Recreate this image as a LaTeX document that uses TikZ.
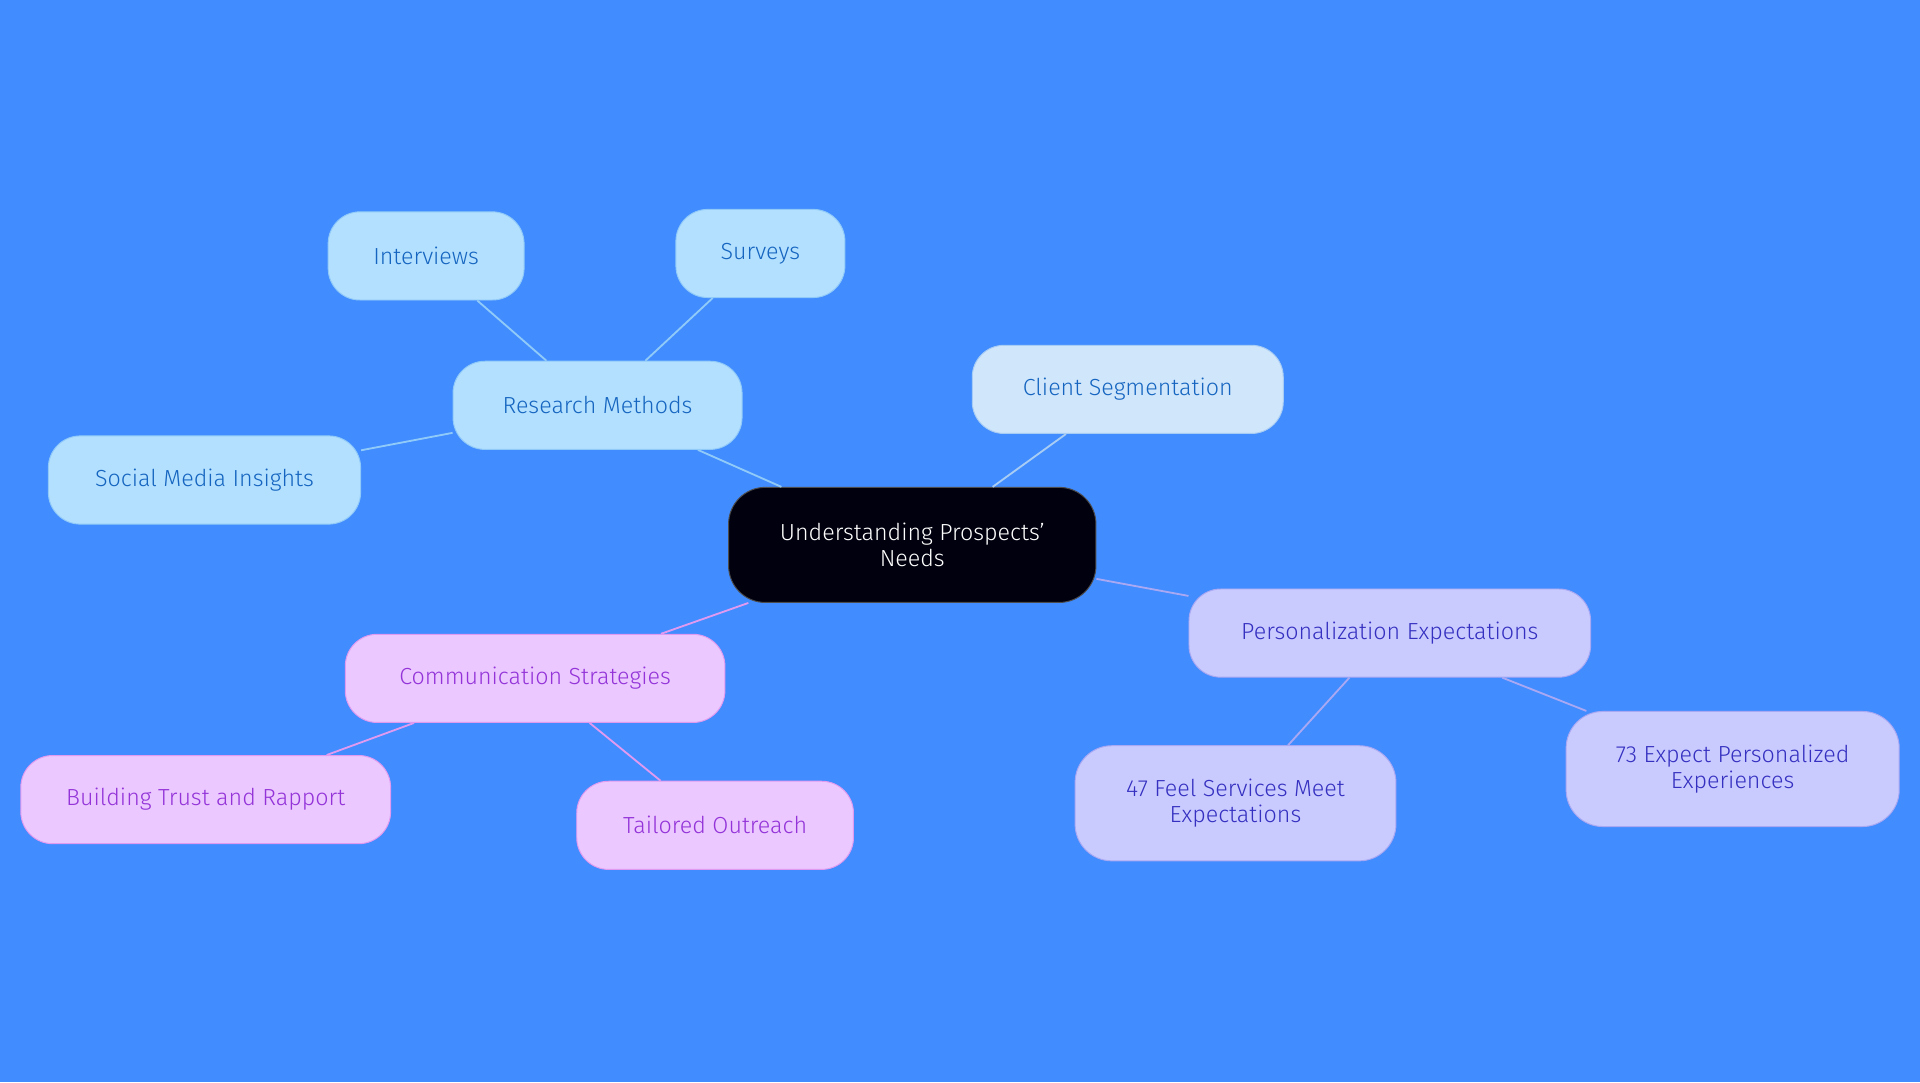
\documentclass[tikz,border=0pt]{standalone}
\usepackage{fontspec}
\setmainfont{Fira Sans Light}[BoldFont=Fira Sans]
\begin{document}
\begin{tikzpicture}[x=1pt,y=-1pt,
  base/.style={rounded corners=26pt,minimum height=72pt,align=center,font=\fontsize{19}{21}\selectfont,line width=0.8pt},
  blu/.style={base,fill=c1fill,draw=c1line,text=c1text},
  seg/.style={base,fill=c2fill,draw=c2line,text=c1text},
  pur/.style={base,fill=c3fill,draw=c3line,text=c3text},
  pnk/.style={base,fill=c4fill,draw=c4line,text=c4text},
  e1/.style={draw=c1line,line width=1.5pt},
  e3/.style={draw=c3line,line width=1.5pt},
  e4/.style={draw=c4line,line width=1.5pt}]
\definecolor{bg}{HTML}{418CFF}
\definecolor{c1fill}{HTML}{B3E0FF}\definecolor{c1line}{HTML}{90CAF9}\definecolor{c1text}{HTML}{1565C0}
\definecolor{c2fill}{HTML}{D0E6FB}\definecolor{c2line}{HTML}{A8CDF5}
\definecolor{c3fill}{HTML}{C9CBFF}\definecolor{c3line}{HTML}{A9A8F3}\definecolor{c3text}{HTML}{3530C0}
\definecolor{c4fill}{HTML}{EBC8FF}\definecolor{c4line}{HTML}{E09AF0}\definecolor{c4text}{HTML}{9333D8}
\fill[bg] (0,0) rectangle (1568,884);
\node[base,fill=black!90!blue!60!black,draw=black!70,text=white,minimum width=300pt,minimum height=94pt,rounded corners=30pt] (c) at (745,445) {Understanding Prospects'\\Needs};
\node[blu,minimum width=236pt] (rm) at (488,331) {Research Methods};
\node[blu,minimum width=160pt] (iv) at (348,209) {Interviews};
\node[blu,minimum width=138pt] (sv) at (621,207) {Surveys};
\node[blu,minimum width=255pt] (sm) at (167,392) {Social Media Insights};
\node[seg,minimum width=254pt] (cs) at (921,318) {Client Segmentation};
\node[pur,minimum width=328pt] (pe) at (1135,517) {Personalization Expectations};
\node[pur,minimum width=262pt,minimum height=94pt,rounded corners=30pt] (p47) at (1009,656) {47 Feel Services Meet\\Expectations};
\node[pur,minimum width=272pt,minimum height=94pt,rounded corners=30pt] (p73) at (1415,628) {73 Expect Personalized\\Experiences};
\node[pnk,minimum width=310pt] (co) at (437,554) {Communication Strategies};
\node[pnk,minimum width=302pt] (bt) at (168,653) {Building Trust and Rapport};
\node[pnk,minimum width=226pt] (to) at (584,674) {Tailored Outreach};
\draw[e1] (c) -- (rm); \draw[e1] (rm) -- (iv); \draw[e1] (rm) -- (sv); \draw[e1] (rm) -- (sm);
\draw[e1,draw=c2line] (c) -- (cs);
\draw[e3] (c) -- (pe); \draw[e3] (pe) -- (p47); \draw[e3] (pe) -- (p73);
\draw[e4] (c) -- (co); \draw[e4] (co) -- (bt); \draw[e4] (co) -- (to);
\end{tikzpicture}
\end{document}
